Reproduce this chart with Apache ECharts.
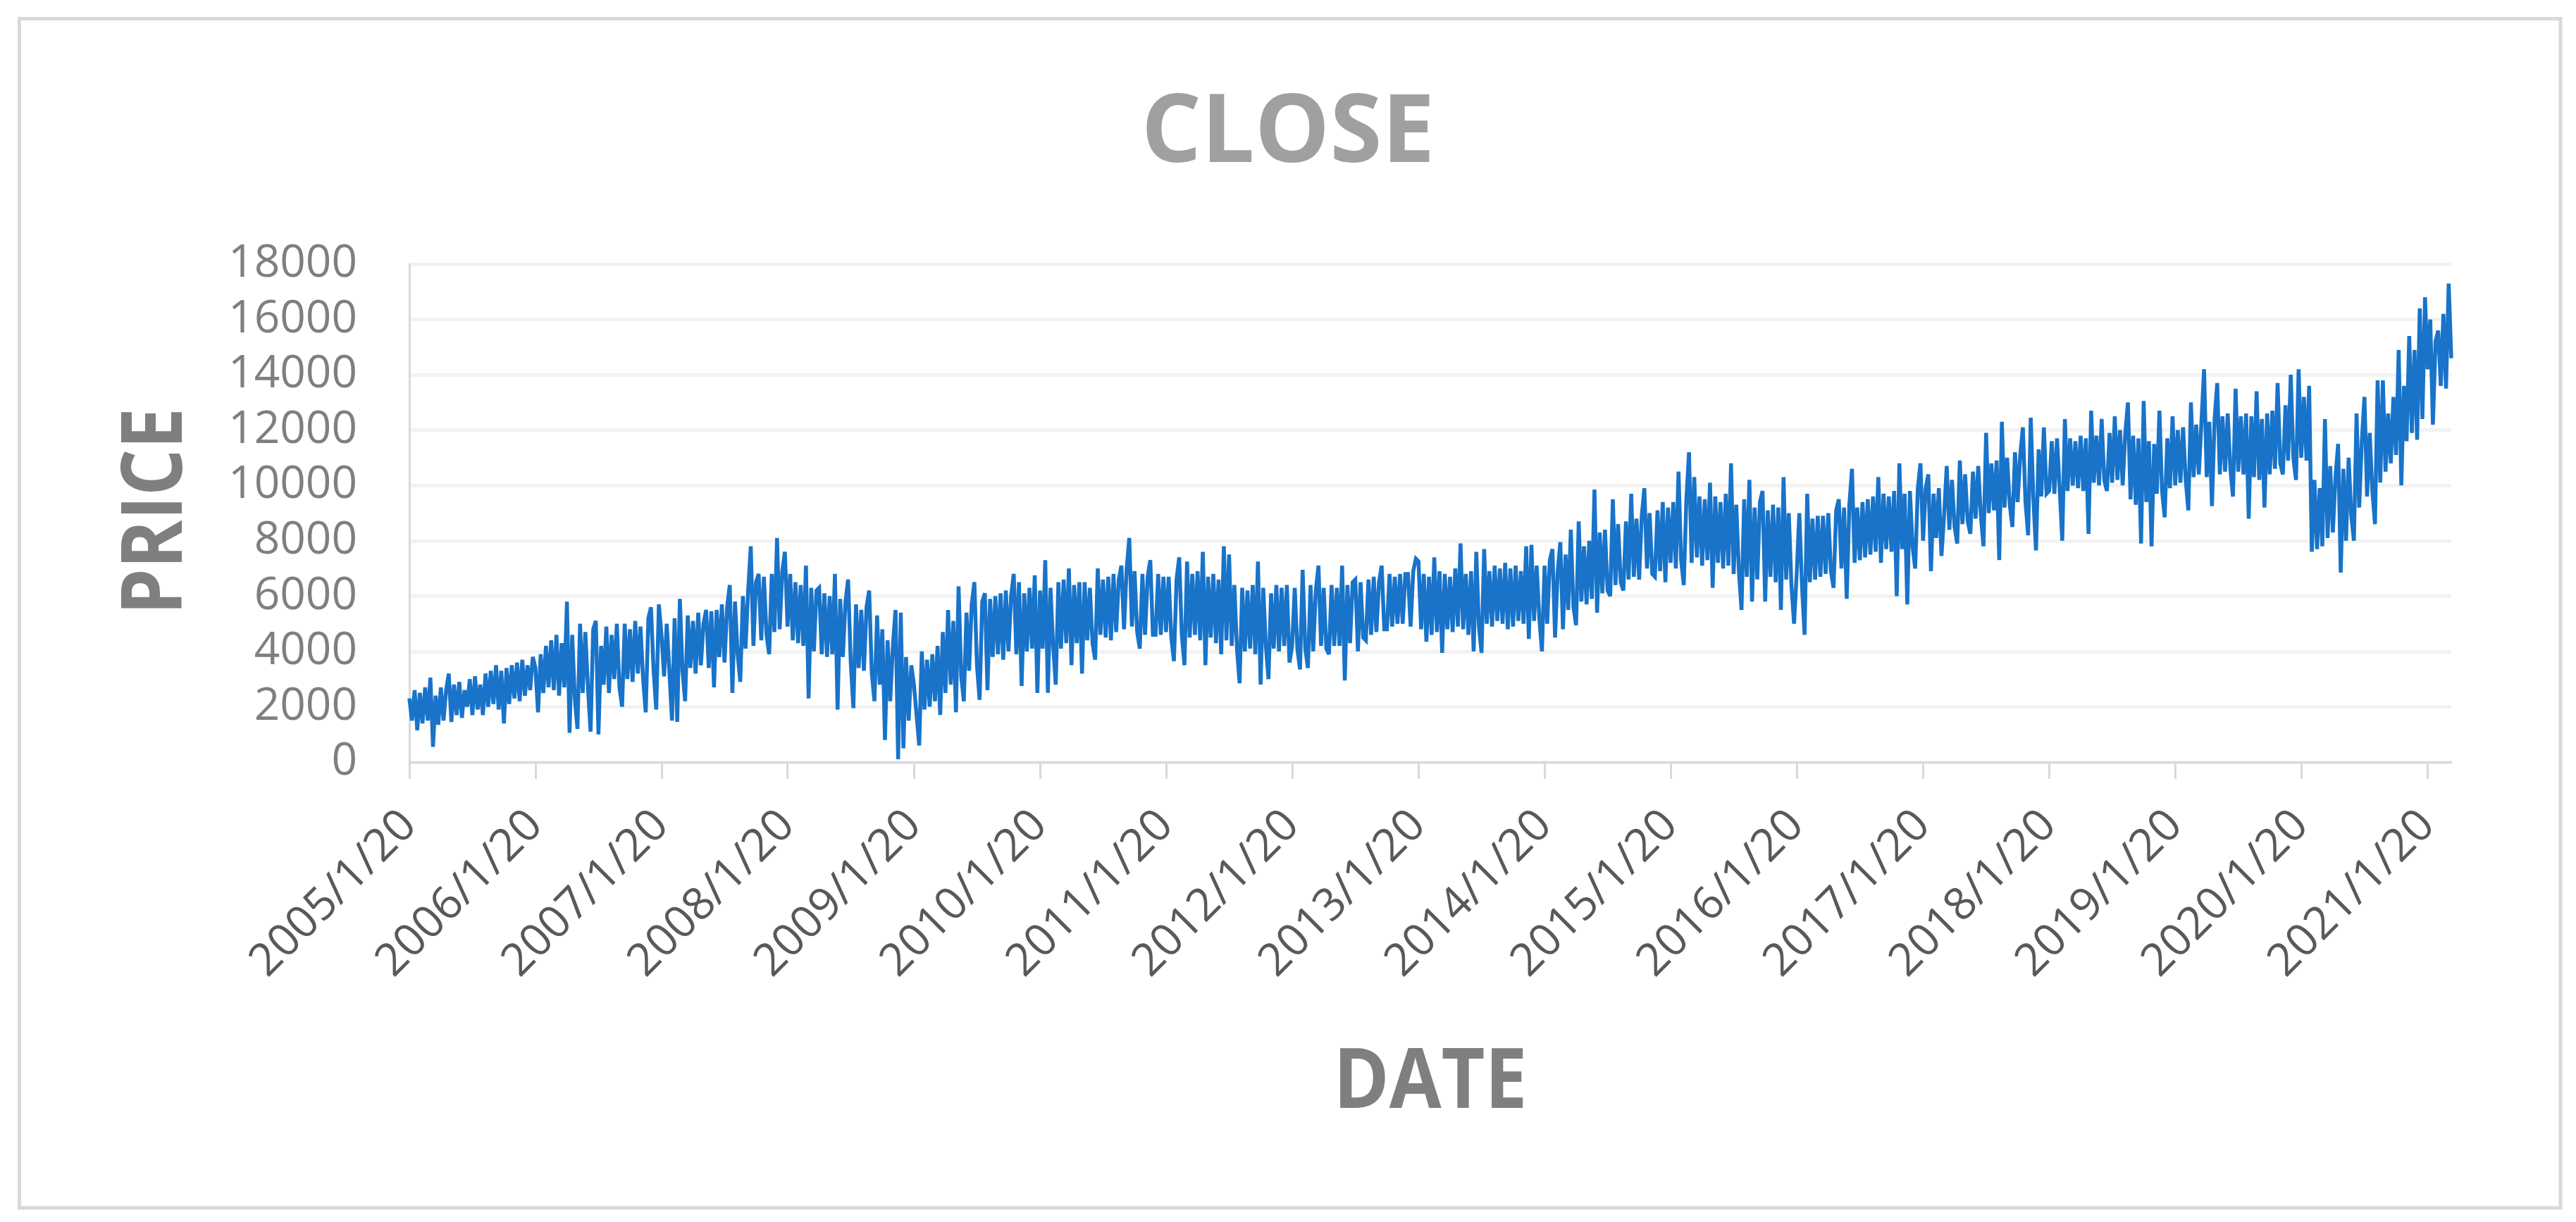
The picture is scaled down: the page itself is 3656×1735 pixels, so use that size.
<!DOCTYPE html>
<html>
<head>
<meta charset="utf-8">
<title>CLOSE</title>
<script src="https://cdn.jsdelivr.net/npm/echarts@6/dist/echarts.min.js"></script>
<style>
  html, body { margin: 0; padding: 0; background: #ffffff; }
  #chart { width: 3656px; height: 1735px; }
</style>
</head>
<body>
<div id="chart"></div>
<script>
// ---- Data (~48 samples per year, each year starting on Jan 20) ----
const tickLabels = ['2005/1/20','2006/1/20','2007/1/20','2008/1/20','2009/1/20','2010/1/20','2011/1/20','2012/1/20',
  '2013/1/20','2014/1/20','2015/1/20','2016/1/20','2017/1/20','2018/1/20','2019/1/20','2020/1/20','2021/1/20'];
const yTicks = [0, 2000, 4000, 6000, 8000, 10000, 12000, 14000, 16000, 18000];
const SAMPLES_PER_YEAR = 48;

const c2005 = [2300,1500,2600,1150,2500,1400,2700,1500,3050,550,2400,1350,2700,1500,2600,3200,1450,2800,1700,2900,1600,2600,2000,3000,1700,3100,1900,2800,1700,3200,2000,3300,2100,3500,1900,3300,1400,3400,2100,3500,2300,3600,2200,3700,2400,3500,2600,3800];
const c2006 = [3400,1800,3900,2500,4200,2700,4400,2600,4600,2400,4300,2700,5800,1060,4600,2300,1200,5000,2500,4700,2700,1100,4800,5100,1000,4200,2800,4900,2500,4600,3000,5000,2700,2000,5000,3000,4800,2900,5100,3200,4900,3000,1800,5200,5600,3300,1900,5700];
const c2007 = [4600,3100,5000,3300,1500,5200,1450,5900,3300,2200,5300,3400,5100,3200,5400,3500,5000,5500,3400,5450,2700,5500,3800,5700,3600,5600,6400,2500,5800,3900,2900,6000,4100,6200,7800,4200,6500,6800,4400,6700,4600,3900,6800,4700,8100,4800,6900,7600];
const c2008 = [4900,6800,4400,6500,4300,6400,4200,7100,2300,6300,4000,6200,6300,3900,6100,3800,6000,3900,6800,1900,5900,3800,5800,6600,3600,1950,5700,3400,5500,3300,5600,6200,3200,2200,5300,2800,4800,800,4400,2200,4200,5500,100,5400,500,3800,1500,3500];
const c2009 = [2800,1700,600,4000,1900,3700,2000,3900,2200,4200,1700,4700,2500,5500,2800,5100,1800,6350,3100,2200,5400,3300,5700,6500,3500,2250,5800,6100,2600,5900,3800,6000,3900,6100,3700,6200,4000,6000,6800,3900,6500,2750,6100,4000,6300,4100,6750,2500];
const c2010 = [6200,4100,7300,2500,6300,4200,2800,6500,4100,6600,4300,7000,3500,6400,4300,6500,3200,6500,4400,6300,4300,3700,7000,4600,6600,4500,6700,4400,6800,4700,6600,7100,4800,7000,8100,4900,6900,4700,4100,6800,4600,6700,7300,4600,4600,6800,4600,6700];
const c2011 = [4700,6700,4500,3650,6600,7400,4600,3500,7250,4500,6800,4600,6900,4400,7600,3500,6700,4500,6800,4300,6600,3900,7800,4400,7500,4200,6400,4100,2850,6300,4000,6200,4100,6400,3900,7250,2800,6300,4200,3000,6100,4100,6400,4000,6300,4200,6400,3600];
const c2012 = [4200,6300,4100,3350,6950,4100,3400,6400,4000,6200,7100,4200,6300,4100,3900,6400,4200,6300,4200,7100,2950,6400,4300,6500,6600,4000,6500,4500,4400,6600,4600,6700,4700,6500,7100,4800,4800,6800,4900,6700,5000,6800,5000,6800,6800,4900,6900,7350];
const c2013 = [7250,4800,6800,4350,6700,4600,7400,4700,6900,3950,6800,4800,6700,4700,7000,4900,7900,4800,6800,4600,6900,4000,7600,4900,3950,7700,5000,6900,4900,7100,5100,7000,5000,7200,4800,7000,4900,7100,5100,6900,5000,7800,4450,7850,5100,7100,5200,4000];
const c2014 = [7100,5000,7300,7700,4500,6900,7950,4800,7500,5500,8400,5600,4950,8700,5800,7800,5700,8000,5900,9850,5400,8300,6100,8400,6200,6000,9500,6400,8600,6500,6200,8700,6600,9700,6700,8800,6600,8900,9900,7000,9000,6800,6700,9100,6900,9400,6500,9200];
const c2015 = [7200,9400,7000,10500,7300,6400,9500,11200,7200,10300,7400,9600,7100,9500,7300,10100,6300,9600,7200,9400,7000,9700,7100,10800,6800,9300,6900,5500,9500,6700,10200,5800,9200,6600,9400,9800,5800,9100,6700,9300,6500,9200,5500,10300,6600,9000,6400,5000];
const c2016 = [6800,9000,6400,4600,9700,6500,8800,6600,8900,6700,8900,6800,9000,6900,6300,9100,9500,7000,9200,5900,9300,10600,7200,9200,7300,9400,7400,9500,7500,9600,7600,10300,7200,9700,7700,9600,7600,9800,6000,10800,7700,9700,5700,9800,7800,7000,9900,10800];
const c2017 = [8000,9900,10400,6900,9700,8100,9900,7450,8900,10700,8400,10200,8500,7900,10900,8600,10400,8700,8250,10500,8800,10700,8900,7800,11900,9000,10800,9100,10900,7300,12300,9200,11000,9300,8500,11200,9400,11100,12100,9400,8200,12450,9500,7650,11300,9600,12100,9700];
const c2018 = [9800,11600,9700,11700,9900,8000,12400,9800,11700,10000,11600,9900,11800,9800,11700,8250,12700,10100,11800,10000,12400,10200,9800,11900,10100,12500,10200,12000,10000,11900,13000,9500,11800,9300,11700,7900,13050,9400,11600,7800,11500,9700,12700,9800,8850,11700,9900,12500];
const c2019 = [10000,12000,10100,12100,10200,9100,13000,10300,12200,10400,12300,14200,10300,12300,9250,12400,13700,10400,12500,10500,12600,10600,9600,13500,10500,12500,10400,12600,8800,12500,10300,13400,10200,12400,9200,12600,10400,12700,10600,13700,10800,10400,12900,10900,14000,11000,10200,14200];
const c2020 = [11000,13200,10900,13600,7600,10200,7700,9900,7800,12400,8100,10700,8300,10300,11500,6850,10600,8000,11000,8900,8000,12600,9200,11600,13200,9600,11900,9800,8600,13800,10100,13800,10500,12600,10800,13200,11100,14900,10000,13600,11600,15400,11900,14900,11650,16400,12400,16800];
const c2021 = [14200,16000,12200,15200,15600,13600,16200,13500,17300,14600];

const years = [2005,2006,2007,2008,2009,2010,2011,2012,2013,2014,2015,2016,2017,2018,2019,2020,2021];
const closeByYear = [c2005,c2006,c2007,c2008,c2009,c2010,c2011,c2012,c2013,c2014,c2015,c2016,c2017,c2018,c2019,c2020,c2021];

// ---- Build series data ----
function parseDate(s) { const p = s.split('/').map(Number); return Date.UTC(p[0], p[1] - 1, p[2]); }
const tickValues = tickLabels.map(parseDate);
const seriesData = [];
years.forEach(function (y, k) {
  const t0 = Date.UTC(y, 0, 20), t1 = Date.UTC(y + 1, 0, 20);
  closeByYear[k].forEach(function (v, i) {
    seriesData.push([t0 + (t1 - t0) * i / SAMPLES_PER_YEAR, v]);
  });
});

const FONT = "'Open Sans', 'Noto Sans', sans-serif";
const chart = echarts.init(document.getElementById('chart'), null, { renderer: 'canvas' });
chart.setOption({
  backgroundColor: '#ffffff',
  animation: false,
  title: {
    text: 'CLOSE',
    left: 'center',
    top: 120,
    textStyle: { fontFamily: FONT, fontSize: 134, fontWeight: 'bold', color: '#a0a0a0' }
  },
  grid: { left: 581, right: 177, top: 375, bottom: 653 },
  xAxis: {
    type: 'value',
    min: tickValues[0],
    max: 'dataMax',
    axisLine: { show: true, lineStyle: { color: '#d9d9d9', width: 3 } },
    axisTick: { show: true, customValues: tickValues, length: 24, lineStyle: { color: '#d9d9d9', width: 3 } },
    axisLabel: {
      customValues: tickValues,
      rotate: 45,
      margin: 80,
      fontSize: 64,
      fontFamily: FONT,
      color: '#595959',
      formatter: function (v) {
        let best = 0;
        for (let i = 1; i < tickValues.length; i++) {
          if (Math.abs(tickValues[i] - v) < Math.abs(tickValues[best] - v)) best = i;
        }
        return tickLabels[best];
      }
    },
    splitLine: { show: false }
  },
  yAxis: {
    type: 'value',
    min: yTicks[0],
    max: yTicks[yTicks.length - 1],
    interval: yTicks[1] - yTicks[0],
    axisLine: { show: true, lineStyle: { color: '#d9d9d9', width: 3 } },
    axisTick: { show: false },
    axisLabel: {
      fontSize: 64, fontFamily: FONT, color: '#7f7f7f', margin: 74,
      formatter: function (v) { return String(v); }
    },
    splitLine: { show: true, lineStyle: { color: '#f2f2f2', width: 5 } }
  },
  series: [{
    name: 'CLOSE',
    type: 'line',
    data: seriesData,
    showSymbol: false,
    symbol: 'none',
    sampling: null,
    lineStyle: { color: '#1873c9', width: 5.5, join: 'miter', miterLimit: 3 },
    itemStyle: { color: '#1873c9' },
    z: 3
  }],
  graphic: [
    {
      type: 'rect', silent: true, z: -1,
      shape: { x: 27.5, y: 26.5, width: 3634 - 27.5, height: 1715 - 26.5 },
      style: { fill: 'none', stroke: '#d9d9d9', lineWidth: 5 }
    },
    {
      type: 'text', silent: true,
      x: 224, y: 726, rotation: Math.PI / 2, scaleX: 0.87, scaleY: 1,
      style: { text: 'PRICE', fontFamily: FONT, fontSize: 120, fontWeight: 'bold', fill: '#7f7f7f', align: 'center', verticalAlign: 'middle' }
    },
    {
      type: 'text', silent: true,
      x: 2030, y: 1539, scaleX: 0.9, scaleY: 1,
      style: { text: 'DATE', fontFamily: FONT, fontSize: 119, fontWeight: 'bold', fill: '#7f7f7f', align: 'center', verticalAlign: 'middle' }
    }
  ]
});
</script>
</body>
</html>
